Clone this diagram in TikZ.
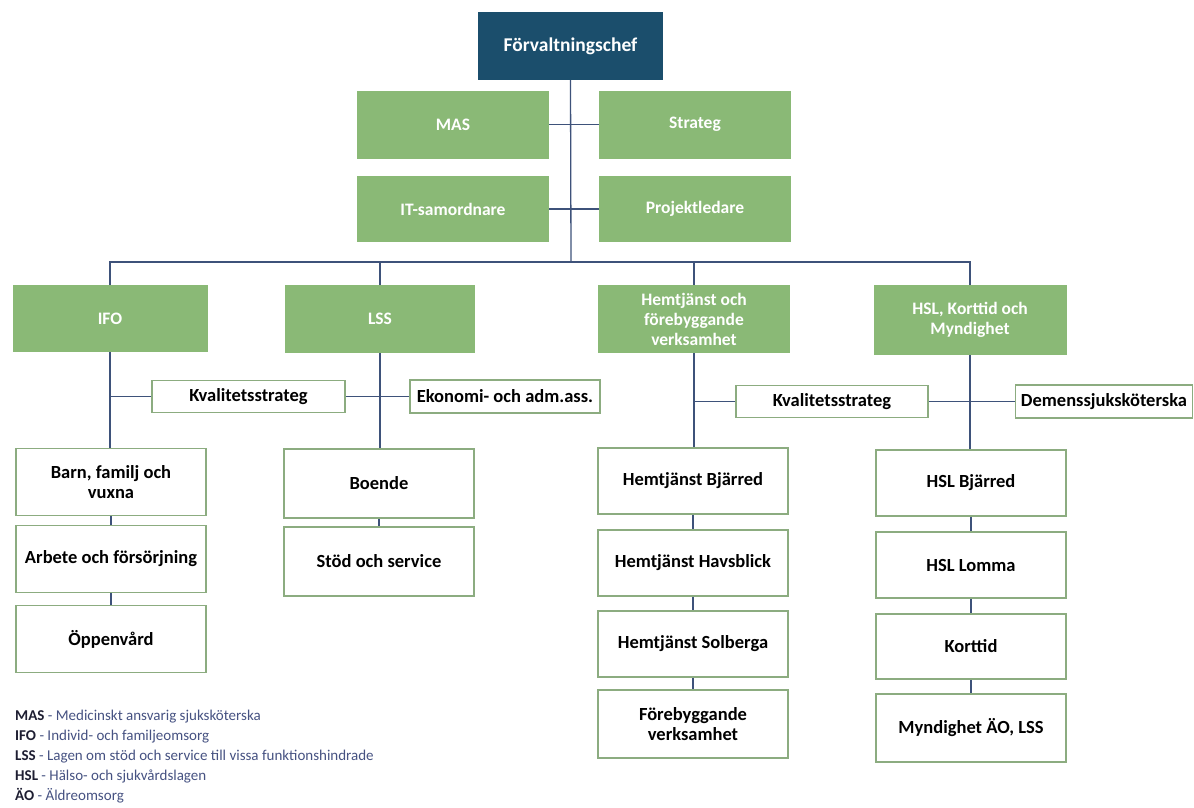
\documentclass[tikz,border=0pt]{standalone}
\usepackage{fontspec}
\setmainfont{Carlito}
\definecolor{navy}{RGB}{27,78,108}
\definecolor{grn}{RGB}{138,185,118}
\definecolor{grnline}{RGB}{140,172,128}
\definecolor{conn}{RGB}{62,82,122}
\definecolor{legtxt}{RGB}{70,82,130}
\definecolor{legabbr}{RGB}{30,30,50}
\begin{document}
\begin{tikzpicture}[x=1pt,y=-1pt,
  base/.style={rectangle,inner sep=2pt,align=center,font=\fontsize{18.5}{20}\selectfont\bfseries},
  chefbox/.style={base,fill=navy,text=white,minimum width=185pt,minimum height=68pt,font=\fontsize{19.5}{21}\selectfont\bfseries},
  greenbox/.style={base,fill=grn,text=white,minimum width=192pt,minimum height=68pt,font=\fontsize{17.5}{20}\selectfont\bfseries},
  whitebox/.style={base,draw=grnline,line width=1.6pt,fill=white,text=black,minimum width=190pt,minimum height=67pt},
  smallbox/.style={whitebox,minimum height=32pt},
  link/.style={draw=conn,line width=1.3pt},
  legend/.style={anchor=west,inner sep=0pt,text=legtxt,font=\fontsize{15}{16}\selectfont}
]
\useasboundingbox (0,0) rectangle (1194,808);
\fill[white] (0,0) rectangle (1194,808);

% top
\node[chefbox] (chef) at (570.5,46) {Förvaltningschef};
\node[greenbox] (mas) at (453,124.5) {MAS};
\node[greenbox] (strateg) at (695,124.5) {Strateg};
\node[greenbox,minimum height=66pt] (it) at (453,209) {IT-samordnare};
\node[greenbox,minimum height=66pt] (proj) at (695,209) {Projektledare};

\coordinate (bus) at (571,262);

% second level
\node[greenbox,minimum width=195pt,minimum height=67pt] (ifo) at (110,318.5) {IFO};
\node[greenbox,minimum width=190pt] (lss) at (380,319) {LSS};
\node[greenbox] (hem) at (694,319) {Hemtjänst och\\förebyggande\\verksamhet};
\node[greenbox,minimum width=193pt,minimum height=70pt] (hsl) at (970,320) {HSL, Korttid och\\Myndighet};

% staff boxes
\node[smallbox,minimum width=193pt] (kv1) at (248.5,396.5) {Kvalitetsstrateg};
\node[smallbox,minimum width=190pt,minimum height=33pt] (eko) at (505,396.5) {Ekonomi- och adm.ass.};
\node[smallbox,minimum width=192pt] (kv2) at (832,401.5) {Kvalitetsstrateg};
\node[smallbox,minimum width=177pt,minimum height=33pt,inner sep=1pt] (dem) at (1104,401.5) {Demenssjuksköterska};

% IFO column
\node[whitebox] (barn) at (111,482) {Barn, familj och\\vuxna};
\node[whitebox] (arb) at (111,559) {Arbete och försörjning};
\node[whitebox] (opp) at (111,639) {Öppenvård};

% LSS column
\node[whitebox,minimum height=69pt] (boende) at (379,483.5) {Boende};
\node[whitebox,minimum height=69pt] (stod) at (379,561.5) {Stöd och service};

% Hemtjänst column
\node[whitebox,minimum height=66pt] (hb) at (693,481) {Hemtjänst Bjärred};
\node[whitebox,minimum height=66pt] (hh) at (693,563) {Hemtjänst Havsblick};
\node[whitebox,minimum height=66pt] (hs) at (693,644) {Hemtjänst Solberga};
\node[whitebox,minimum height=68pt] (fv) at (693,724) {Förebyggande\\verksamhet};

% HSL column
\node[whitebox,minimum height=66pt] (hslb) at (971,483) {HSL Bjärred};
\node[whitebox,minimum height=66pt] (hsll) at (971,565) {HSL Lomma};
\node[whitebox,minimum height=65pt] (kort) at (971,646.5) {Korttid};
\node[whitebox,minimum height=68pt] (myn) at (971,728) {Myndighet ÄO, LSS};

% connectors
\draw[link] (chef.south) -- (bus);
\draw[link] (mas.east) -- (strateg.west);
\draw[link] (it.east) -- (proj.west);
\draw[link] (ifo.north) -- (ifo.north |- bus) -- (hsl.north |- bus) -- (hsl.north);
\draw[link] (lss.north) -- (lss.north |- bus);
\draw[link] (hem.north) -- (hem.north |- bus);

\draw[link] (ifo.south) -- (ifo.south |- barn.north);
\draw[link] (kv1.west) -- (kv1.west -| ifo.south);
\draw[link] (kv1.east) -- (eko.west);
\draw[link] (barn.south) -- (arb.north);
\draw[link] (arb.south) -- (opp.north);

\draw[link] (lss.south) -- (lss.south |- boende.north);
\draw[link] (boende.south) -- (stod.north);

\draw[link] (hem.south) -- (hem.south |- hb.north);
\draw[link] (kv2.west) -- (kv2.west -| hem.south);
\draw[link] (kv2.east) -- (dem.west);
\draw[link] (hb.south) -- (hh.north);
\draw[link] (hh.south) -- (hs.north);
\draw[link] (hs.south) -- (fv.north);

\draw[link] (hsl.south) -- (hsl.south |- hslb.north);
\draw[link] (hslb.south) -- (hsll.north);
\draw[link] (hsll.south) -- (kort.north);
\draw[link] (kort.south) -- (myn.north);

% legend
\node[legend] (l1) at (15,717) {\textcolor{legabbr}{\bfseries MAS} - Medicinskt ansvarig sjuksköterska};
\node[legend] (l2) at (15,737) {\textcolor{legabbr}{\bfseries IFO} - Individ- och familjeomsorg};
\node[legend] (l3) at (15,756.5) {\textcolor{legabbr}{\bfseries LSS} - Lagen om stöd och service till vissa funktionshindrade};
\node[legend] (l4) at (15,776) {\textcolor{legabbr}{\bfseries HSL} - Hälso- och sjukvårdslagen};
\node[legend] (l5) at (15,796) {\textcolor{legabbr}{\bfseries ÄO} - Äldreomsorg};
\end{tikzpicture}
\end{document}
